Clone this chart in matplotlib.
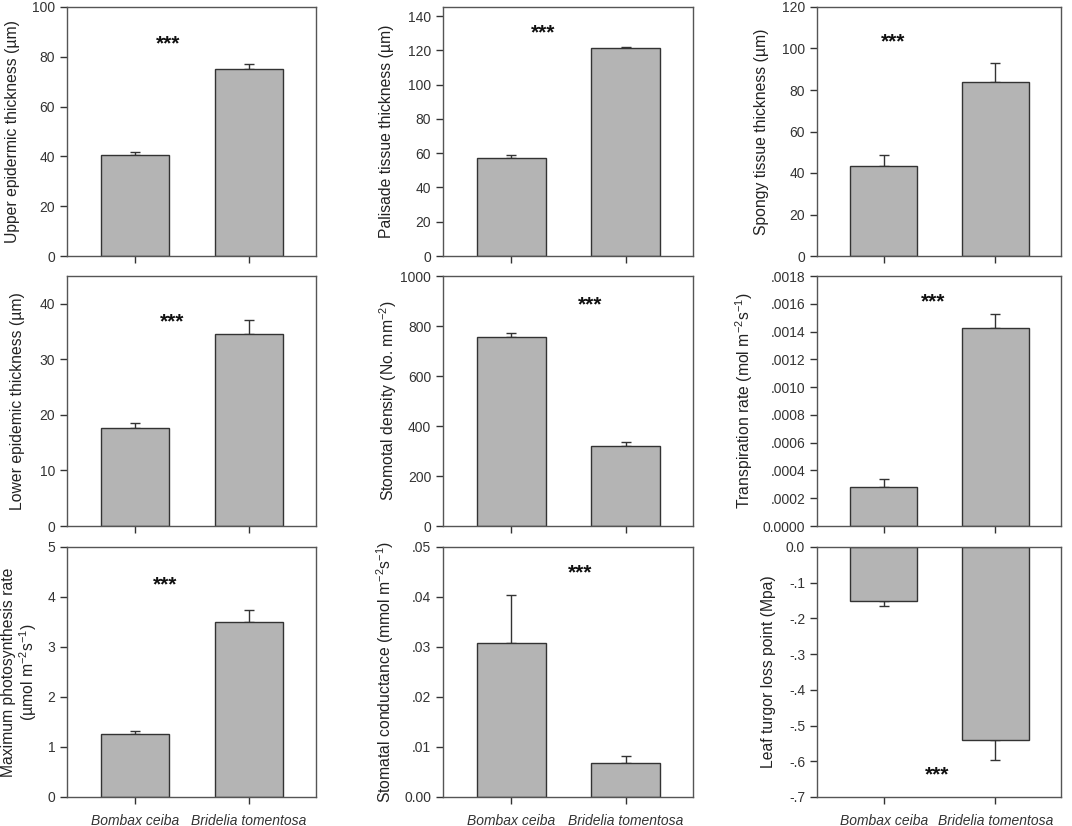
import matplotlib
matplotlib.use("Agg")
import matplotlib.pyplot as plt
import matplotlib.ticker as mticker

plt.rcParams['font.family'] = ['Liberation Sans', 'DejaVu Sans']
plt.rcParams['mathtext.default'] = 'regular'

# ───────── data ─────────
species = ['Bombax ceiba', 'Bridelia tomentosa']

upper_epi = [40.6, 74.9]
upper_epi_err = [1.3, 2.4]
palisade = [57.0, 121.2]
palisade_err = [1.8, 0.8]
spongy = [43.6, 83.9]
spongy_err = [5.1, 9.2]
lower_epi = [17.65, 34.6]
lower_epi_err = [0.85, 2.4]
stom_density = [756, 320]
stom_density_err = [16, 15]
transpiration = [0.000278, 0.001428]
transpiration_err = [0.000058, 0.0001]
max_photo = [1.268, 3.505]
max_photo_err = [0.047, 0.24]
stom_cond = [0.0308, 0.0069]
stom_cond_err = [0.0096, 0.0013]
turgor = [-0.152, -0.541]
turgor_err = [0.014, 0.055]

# ───────── panel setup ─────────
fig = plt.figure(figsize=(10.72, 8.26), dpi=100)
W, H = 1072, 826
col_left = [67, 443, 817]
col_width = [249, 250, 244]
row_top = [7, 276, 547]
row_height = [249, 250, 250]

def fmt_lead(dec, zero_label):
    # sigmaplot style: drop the leading zero
    def f(v, pos):
        if abs(v) < 1e-12:
            return zero_label
        s = f"{v:.{dec}f}"
        return s.replace('0.', '.', 1)
    return mticker.FuncFormatter(f)

panels = [
    dict(vals=upper_epi, err=upper_epi_err, ylim=(0, 100), step=20,
         label='Upper epidermic thickness (µm)', star=(0.29, 85.3), lx=-0.22),
    dict(vals=palisade, err=palisade_err, ylim=(0, 145.3), step=20,
         label='Palisade tissue thickness (µm)', star=(0.28, 130), lx=-0.225),
    dict(vals=spongy, err=spongy_err, ylim=(0, 120), step=20,
         label='Spongy tissue thickness (µm)', star=(0.08, 103), lx=-0.229),
    dict(vals=lower_epi, err=lower_epi_err, ylim=(0, 45), step=10,
         label='Lower epidemic thickness (µm)', star=(0.32, 36.7), lx=-0.2),
    dict(vals=stom_density, err=stom_density_err, ylim=(0, 1000), step=200,
         label='Stomotal density (No. mm$^{-2}$)', star=(0.69, 884), lx=-0.22),
    dict(vals=transpiration, err=transpiration_err, ylim=(0, 0.0018), step=0.0002,
         label='Transpiration rate (mol m$^{-2}$s$^{-1}$)', star=(0.44, 0.001615),
         lx=-0.30, fmt=fmt_lead(4, '0.0000')),
    dict(vals=max_photo, err=max_photo_err, ylim=(0, 5), step=1,
         label='Maximum photosynthesis rate\n(µmol m$^{-2}$s$^{-1}$)', star=(0.26, 4.24),
         lx=-0.19),
    dict(vals=stom_cond, err=stom_cond_err, ylim=(0, 0.05), step=0.01,
         label='Stomatal conductance (mmol m$^{-2}$s$^{-1}$)', star=(0.6, 0.0449),
         lx=-0.232, fmt=fmt_lead(2, '0.00')),
    dict(vals=turgor, err=turgor_err, ylim=(-0.7, 0), step=0.1,
         label='Leaf turgor loss point (Mpa)', star=(0.475, -0.638),
         lx=-0.2, fmt=fmt_lead(1, '0.0')),
]

x = [0, 1]
edge = '#333333'

for i, p in enumerate(panels):
    r, c = divmod(i, 3)
    ax = fig.add_axes([col_left[c] / W, 1 - (row_top[r] + row_height[r]) / H,
                       col_width[c] / W, row_height[r] / H])
    vals = p['vals']
    ax.bar(x, vals, width=0.6, color='#b4b4b4', edgecolor=edge, linewidth=1.0, zorder=2)
    # one sided error bars, away from zero
    lo = [e if v < 0 else 0 for v, e in zip(vals, p['err'])]
    hi = [e if v >= 0 else 0 for v, e in zip(vals, p['err'])]
    ax.errorbar(x, vals, yerr=[lo, hi], fmt='none', ecolor=edge, elinewidth=1.0,
                capsize=3.6, capthick=1.0, zorder=1)

    ax.set_xlim(-0.6, 1.59)
    ax.set_ylim(*p['ylim'])
    ax.yaxis.set_major_locator(mticker.MultipleLocator(p['step']))
    if 'fmt' in p:
        ax.yaxis.set_major_formatter(p['fmt'])
    ax.set_xticks(x)
    if r == 2:
        ax.set_xticklabels(species, style='italic', fontsize=11.3, color='#222222')
    else:
        ax.set_xticklabels([])

    ax.tick_params(axis='both', direction='out', length=5, width=1.0, color=edge,
                   labelsize=10, labelcolor='#333333', top=False, right=False)
    ax.tick_params(axis='x', pad=7)
    for sp in ax.spines.values():
        sp.set_color('#555555')
        sp.set_linewidth(1.0)

    ax.set_ylabel(p['label'], fontsize=11.3, color='#222222', va='center',
                  linespacing=1.1)
    ax.yaxis.set_label_coords(p['lx'], 0.5)

    ax.text(p['star'][0], p['star'][1], '***', ha='center', va='center',
            fontsize=15, fontweight='bold', color='#111111')

fig.savefig('out.png', dpi=100)
